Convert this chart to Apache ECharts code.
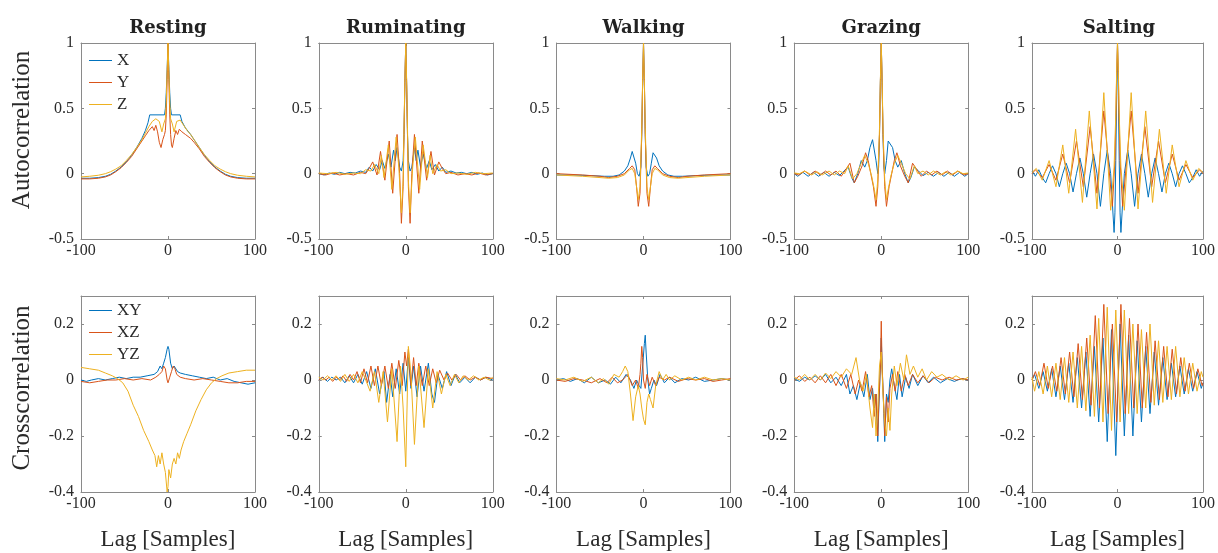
<!DOCTYPE html>
<html>
<head>
<meta charset="utf-8">
<script src="https://cdn.jsdelivr.net/npm/echarts@6/dist/echarts.min.js"></script>
<style>
  html, body { margin: 0; padding: 0; background: #ffffff; }
  #chart { width: 1218px; height: 553px; }
</style>
</head>
<body>
<div id="chart"></div>
<script>
// Column titles (one activity per column) and legend entries
const activities = ['Resting', 'Ruminating', 'Walking', 'Grazing', 'Salting'];
const autoNames = ['X', 'Y', 'Z'];
const crossNames = ['XY', 'XZ', 'YZ'];
const rowLabels = ['Autocorrelation', 'Crosscorrelation'];
const lagLabel = 'Lag [Samples]';

// Tick labels of the axes
const lagTicks = [-100, 0, 100];
const autoTicks = [-0.5, 0, 0.5, 1];
const crossTicks = [-0.4, -0.2, 0, 0.2];
const crossTop = 0.3;

// ---- Autocorrelation, [lag, value] ----
const restX = [[-100,-0.035],[-90,-0.035],[-80,-0.03],[-72,-0.02],[-66,-0.005],[-60,0.02],[-54,0.05],[-48,0.09],[-42,0.14],[-36,0.2],[-30,0.27],[-26,0.33],[-23,0.39],[-21,0.45],[-4,0.45],[-3,0.5],[-2,0.62],[-1,0.8],[0,1],[1,0.8],[2,0.62],[3,0.5],[4,0.45],[14,0.45],[16,0.4],[20,0.35],[26,0.3],[30,0.26],[36,0.2],[42,0.14],[48,0.09],[54,0.05],[60,0.02],[66,-0.005],[72,-0.02],[80,-0.03],[90,-0.035],[100,-0.035]];
const restY = [[-100,-0.04],[-90,-0.04],[-80,-0.035],[-72,-0.025],[-66,-0.01],[-60,0.015],[-54,0.045],[-48,0.085],[-42,0.13],[-36,0.19],[-30,0.25],[-26,0.29],[-22,0.33],[-18,0.36],[-16,0.33],[-14,0.37],[-12,0.32],[-10,0.24],[-8,0.2],[-6,0.26],[-4,0.3],[-3,0.33],[-2,0.45],[-1,0.72],[0,1],[1,0.72],[2,0.45],[3,0.3],[4,0.22],[5,0.2],[7,0.27],[9,0.33],[11,0.3],[13,0.34],[16,0.32],[20,0.3],[26,0.27],[30,0.24],[36,0.19],[42,0.13],[48,0.085],[54,0.045],[60,0.015],[66,-0.01],[72,-0.025],[80,-0.035],[90,-0.04],[100,-0.04]];
const restZ = [[-100,-0.025],[-90,-0.02],[-80,-0.012],[-72,0],[-66,0.015],[-60,0.035],[-54,0.06],[-48,0.1],[-42,0.145],[-36,0.2],[-30,0.26],[-26,0.31],[-22,0.36],[-18,0.4],[-14,0.42],[-10,0.4],[-7,0.32],[-5,0.38],[-3,0.42],[-2,0.55],[-1,0.78],[0,1],[1,0.78],[2,0.55],[3,0.42],[5,0.38],[7,0.32],[10,0.4],[14,0.41],[18,0.37],[22,0.33],[26,0.3],[30,0.26],[36,0.2],[42,0.145],[48,0.1],[54,0.06],[60,0.035],[66,0.015],[72,0],[80,-0.012],[90,-0.02],[100,-0.025]];

const rumX = [[-100,0],[-94,-0.01],[-88,0.005],[-82,-0.005],[-76,0.01],[-70,0],[-64,0.01],[-58,0.005],[-52,0.02],[-46,0.01],[-42,0.05],[-38,0.02],[-34,0.07],[-30,0.03],[-27,0.1],[-24,0.04],[-20,0.15],[-17,0.05],[-14,0.18],[-12,0.1],[-10,0.2],[-7,0.05],[-5,0.02],[-3,0.1],[-2,0.3],[-1,0.7],[0,1],[1,0.7],[2,0.3],[3,0.1],[5,0.02],[7,0.05],[10,0.2],[12,0.1],[14,0.18],[17,0.05],[20,0.15],[24,0.04],[27,0.1],[30,0.03],[34,0.07],[38,0.02],[42,0.05],[46,0.01],[52,0.02],[58,0.005],[64,0.01],[70,0],[76,0.01],[82,-0.005],[88,0.005],[94,-0.01],[100,0]];
const rumY = [[-100,0],[-92,-0.01],[-84,0.005],[-76,-0.01],[-68,0],[-60,-0.01],[-52,0.01],[-46,0],[-42,0.04],[-38,0.09],[-33,-0.01],[-29,0.17],[-24,-0.05],[-19,0.25],[-15,-0.15],[-10,0.3],[-7,0],[-5,-0.38],[-3,-0.1],[-2,0.3],[-1,0.7],[0,1],[1,0.7],[2,0.3],[3,-0.1],[5,-0.38],[7,0],[10,0.3],[15,-0.15],[19,0.25],[24,-0.05],[29,0.17],[33,-0.01],[38,0.09],[42,0.04],[46,0],[52,0.01],[60,-0.01],[68,0],[76,-0.01],[84,0.005],[92,-0.01],[100,0]];
const rumZ = [[-100,0.005],[-90,0],[-80,0.01],[-70,-0.005],[-60,0.005],[-52,0],[-46,0.03],[-40,0.02],[-36,0.07],[-31,0],[-28,0.14],[-25,-0.03],[-20,0.22],[-16,-0.12],[-11,0.28],[-8,0.05],[-5,-0.3],[-3,-0.05],[-2,0.35],[-1,0.72],[0,1],[1,0.72],[2,0.35],[3,-0.05],[5,-0.3],[8,0.05],[11,0.28],[16,-0.12],[20,0.22],[25,-0.03],[28,0.14],[31,0],[36,0.07],[40,0.02],[46,0.03],[52,0],[60,0.005],[70,-0.005],[80,0.01],[90,0],[100,0.005]];

const walkX = [[-100,-0.01],[-80,-0.01],[-60,-0.015],[-45,-0.02],[-35,-0.02],[-28,-0.01],[-22,0.02],[-18,0.06],[-15,0.12],[-13,0.17],[-11,0.16],[-9,0.08],[-7,0],[-5,-0.02],[-3,0.05],[-2,0.3],[-1,0.7],[0,1],[1,0.7],[2,0.3],[3,0.05],[5,-0.02],[7,0],[9,0.08],[11,0.16],[13,0.17],[15,0.12],[18,0.06],[22,0.02],[28,-0.01],[35,-0.02],[45,-0.02],[60,-0.015],[80,-0.01],[100,-0.01]];
const walkY = [[-100,0],[-70,-0.01],[-50,-0.02],[-40,-0.03],[-30,-0.02],[-22,0],[-16,0.04],[-13,0.06],[-10,0.03],[-8,-0.1],[-6,-0.25],[-4,-0.15],[-2,0.3],[-1,0.7],[0,1],[1,0.7],[2,0.3],[4,-0.15],[6,-0.25],[8,-0.1],[10,0.03],[13,0.06],[16,0.04],[22,0],[30,-0.02],[40,-0.03],[50,-0.02],[70,-0.01],[100,0]];
const walkZ = [[-100,-0.01],[-70,-0.02],[-50,-0.03],[-40,-0.035],[-30,-0.03],[-22,-0.01],[-16,0.03],[-13,0.04],[-10,0],[-8,-0.1],[-6,-0.2],[-4,-0.1],[-2,0.35],[-1,0.72],[0,1],[1,0.72],[2,0.35],[4,-0.1],[6,-0.2],[8,-0.1],[10,0],[13,0.04],[16,0.03],[22,-0.01],[30,-0.03],[40,-0.035],[50,-0.03],[70,-0.02],[100,-0.01]];

const grazeX = [[-100,0],[-96,-0.02],[-90,0.01],[-84,-0.02],[-78,0.01],[-72,-0.02],[-66,0.01],[-60,-0.02],[-54,0.01],[-48,-0.015],[-43,0.02],[-38,0.05],[-34,-0.03],[-31,-0.07],[-27,0],[-23,0.1],[-19,0.05],[-16,0.1],[-13,0.2],[-10,0.26],[-8,0.25],[-6,0.1],[-4,0],[-3,0.05],[-2,0.3],[-1,0.7],[0,1],[1,0.7],[2,0.3],[3,0.05],[4,0],[6,0.1],[8,0.25],[10,0.26],[13,0.2],[16,0.1],[19,0.05],[23,0.1],[27,0],[31,-0.07],[34,-0.03],[38,0.05],[43,0.02],[48,-0.015],[54,0.01],[60,-0.02],[66,0.01],[72,-0.02],[78,0.01],[84,-0.02],[90,0.01],[96,-0.02],[100,0]];
const grazeY = [[-100,0],[-95,-0.01],[-88,0.02],[-82,-0.01],[-76,0.02],[-70,-0.01],[-64,0.02],[-58,-0.01],[-52,0.02],[-46,-0.02],[-40,0.04],[-36,0.08],[-31,-0.07],[-27,-0.02],[-22,0.06],[-18,0.16],[-15,0.1],[-12,0],[-9,-0.1],[-6,-0.25],[-4,-0.1],[-2,0.3],[-1,0.7],[0,1],[1,0.7],[2,0.3],[4,-0.1],[6,-0.25],[9,-0.1],[12,0],[15,0.1],[18,0.16],[22,0.06],[27,-0.02],[31,-0.07],[36,0.08],[40,0.04],[46,-0.02],[52,0.02],[58,-0.01],[64,0.02],[70,-0.01],[76,0.02],[82,-0.01],[88,0.02],[95,-0.01],[100,0]];
const grazeZ = [[-100,0.005],[-94,0],[-88,0.02],[-80,-0.01],[-74,0.015],[-68,-0.01],[-60,0.02],[-54,-0.01],[-48,0.02],[-42,0],[-38,0.06],[-33,-0.04],[-28,0],[-23,0.08],[-19,0.14],[-15,0.08],[-11,-0.02],[-8,-0.12],[-6,-0.2],[-4,-0.05],[-2,0.35],[-1,0.72],[0,1],[1,0.72],[2,0.35],[4,-0.05],[6,-0.2],[8,-0.12],[11,-0.02],[15,0.08],[19,0.14],[23,0.08],[28,0],[33,-0.04],[38,0.06],[42,0],[48,0.02],[54,-0.01],[60,0.02],[68,-0.01],[74,0.015],[80,-0.01],[88,0.02],[94,0],[100,0.005]];

const saltX = [[-100,0.02],[-96,-0.02],[-92,0.03],[-88,-0.03],[-84,-0.07],[-80,0],[-76,0.06],[-72,0],[-68,-0.1],[-64,0],[-60,0.08],[-56,0],[-52,-0.14],[-48,0],[-44,0.12],[-40,0],[-36,-0.18],[-32,0],[-28,0.15],[-24,0],[-20,-0.25],[-16,0],[-12,0.18],[-8,0],[-4,-0.45],[-3,-0.3],[-2,0.1],[-1,0.6],[0,1],[1,0.6],[2,0.1],[3,-0.3],[4,-0.45],[8,0],[12,0.18],[16,0],[20,-0.25],[24,0],[28,0.15],[32,0],[36,-0.18],[40,0],[44,0.12],[48,0],[52,-0.14],[56,0],[60,0.08],[64,0],[68,-0.1],[72,0],[76,0.06],[80,0],[84,-0.07],[88,-0.03],[92,0.03],[96,-0.02],[100,0.02]];
const saltY = [[-100,0],[-96,0.03],[-88,-0.03],[-80,0.07],[-72,-0.05],[-64,0.15],[-56,-0.07],[-48,0.25],[-40,-0.1],[-32,0.36],[-24,-0.15],[-16,0.48],[-6,-0.25],[-3,0.1],[-2,0.4],[-1,0.75],[0,1],[1,0.75],[2,0.4],[3,0.1],[6,-0.25],[16,0.48],[24,-0.15],[32,0.36],[40,-0.1],[48,0.25],[56,-0.07],[64,0.15],[72,-0.05],[80,0.07],[88,-0.03],[96,0.03],[100,0]];
const saltZ = [[-100,0.01],[-95,0.04],[-88,-0.05],[-80,0.1],[-72,-0.1],[-64,0.22],[-57,-0.15],[-49,0.34],[-41,-0.22],[-33,0.48],[-24,-0.27],[-16,0.62],[-8,-0.28],[-4,0.05],[-2,0.45],[-1,0.78],[0,1],[1,0.78],[2,0.45],[4,0.05],[8,-0.28],[16,0.62],[24,-0.27],[33,0.48],[41,-0.22],[49,0.34],[57,-0.15],[64,0.22],[72,-0.1],[80,0.1],[88,-0.05],[95,0.04],[100,0.01]];

// ---- Crosscorrelation, [lag, value] ----
const restXY = [[-100,0],[-94,-0.005],[-88,0],[-80,0.005],[-72,0],[-64,0.005],[-56,0.01],[-48,0.005],[-40,0.01],[-32,0.01],[-24,0.015],[-16,0.02],[-12,0.03],[-9,0.05],[-7,0.04],[-5,0.06],[-3,0.08],[-1,0.11],[0,0.12],[1,0.11],[3,0.06],[5,0.04],[7,0.05],[9,0.055],[11,0.03],[14,0.025],[20,0.02],[28,0.015],[36,0.01],[44,0.005],[52,0.01],[60,0],[68,0.005],[76,-0.005],[84,-0.01],[92,-0.015],[100,-0.01]];
const restXZ = [[-100,-0.005],[-90,-0.01],[-80,-0.005],[-70,0],[-60,0],[-50,0.005],[-40,0],[-30,0.005],[-20,0],[-14,0.01],[-10,0.02],[-7,0.03],[-5,0.05],[-3,0.04],[-1,0],[0,-0.01],[2,0.01],[4,0.03],[6,0.05],[8,0.04],[10,0.02],[14,0.01],[20,0.005],[30,0],[40,0.005],[50,0],[60,-0.005],[70,-0.01],[80,-0.01],[90,-0.005],[100,-0.005]];
const restYZ = [[-100,0.045],[-90,0.04],[-80,0.035],[-72,0.025],[-64,0.015],[-58,0.005],[-52,-0.01],[-46,-0.04],[-40,-0.09],[-34,-0.13],[-28,-0.18],[-22,-0.22],[-18,-0.25],[-15,-0.27],[-13,-0.31],[-11,-0.27],[-9,-0.3],[-7,-0.26],[-5,-0.3],[-3,-0.33],[-1,-0.4],[0,-0.38],[1,-0.32],[3,-0.35],[5,-0.3],[7,-0.28],[9,-0.3],[11,-0.26],[13,-0.28],[15,-0.25],[18,-0.22],[22,-0.19],[26,-0.16],[32,-0.11],[38,-0.07],[44,-0.035],[50,-0.01],[56,0.005],[62,0.015],[70,0.025],[80,0.03],[90,0.035],[100,0.035]];

const rumXY = [[-100,0],[-95,0.01],[-90,-0.005],[-85,0.01],[-80,0],[-75,0.01],[-70,-0.01],[-65,0.015],[-60,-0.01],[-55,0.02],[-50,-0.015],[-45,0.03],[-40,-0.03],[-35,0.04],[-30,-0.05],[-25,0.03],[-22,-0.08],[-18,0.02],[-15,-0.06],[-11,0.04],[-7,-0.05],[-3,0.06],[0,-0.04],[3,0.08],[6,-0.03],[9,0.05],[13,-0.06],[17,0.05],[21,-0.04],[26,0.06],[30,-0.05],[33,-0.08],[37,0.02],[42,-0.03],[47,0.03],[52,-0.02],[57,0.02],[62,-0.01],[68,0.01],[74,-0.01],[80,0.01],[86,0],[92,0.01],[100,0]];
const rumXZ = [[-100,0],[-96,0.01],[-92,0],[-88,0.01],[-84,-0.005],[-80,0.01],[-76,0],[-72,0.015],[-68,-0.005],[-64,0.02],[-60,0],[-56,0.03],[-52,-0.01],[-48,0.04],[-44,-0.01],[-40,0.05],[-36,-0.02],[-32,0.05],[-28,-0.02],[-24,0.05],[-20,-0.03],[-16,0.06],[-12,-0.03],[-8,0.07],[-4,-0.02],[-1,0.1],[1,0.05],[3,0.11],[6,-0.02],[9,0.08],[12,-0.02],[15,0.06],[19,-0.02],[23,0.05],[27,-0.02],[31,0.04],[35,-0.01],[39,0.035],[44,0],[48,0.025],[53,0],[58,0.02],[63,0],[68,0.015],[74,0],[80,0.01],[86,0],[92,0.01],[100,0.005]];
const rumYZ = [[-100,0.01],[-95,0],[-90,0.015],[-85,0],[-80,0.015],[-75,-0.005],[-70,0.02],[-65,-0.005],[-60,0.02],[-55,-0.01],[-50,0.03],[-46,0],[-41,-0.04],[-36,0.03],[-31,-0.08],[-26,0.03],[-21,-0.15],[-16,0.04],[-10,-0.22],[-6,0.05],[-3,-0.1],[0,-0.31],[3,0.12],[6,0.02],[10,-0.23],[15,0.05],[21,-0.17],[26,0.04],[31,-0.1],[36,0.03],[41,-0.05],[46,0.02],[51,-0.02],[56,0.02],[61,-0.01],[66,0.015],[72,0],[78,0.015],[84,0],[90,0.01],[96,0],[100,0.01]];

const walkXY = [[-100,0],[-92,0.005],[-84,-0.005],[-76,0.005],[-68,-0.01],[-60,0.01],[-52,-0.01],[-44,0],[-38,-0.015],[-32,0.01],[-26,-0.01],[-20,0.02],[-15,0],[-11,-0.03],[-8,0],[-5,-0.02],[-3,-0.03],[-1,0.05],[1,0.13],[2,0.16],[3,0.1],[5,0],[7,-0.05],[9,-0.03],[12,0],[15,-0.02],[19,0.02],[24,-0.01],[30,0.01],[36,-0.01],[44,0.005],[52,0],[60,0.01],[70,-0.005],[80,0],[90,0.005],[100,0]];
const walkXZ = [[-100,0],[-90,-0.005],[-80,0.005],[-70,0],[-60,-0.01],[-50,0.005],[-42,-0.01],[-36,0.01],[-30,-0.01],[-24,0],[-18,0.02],[-13,-0.02],[-9,0],[-6,-0.03],[-4,0.02],[-3,0.06],[-2,0.12],[-1,0.08],[0,0],[2,-0.03],[4,0.02],[7,-0.02],[10,0.01],[14,-0.02],[18,0.01],[24,0],[30,0.01],[40,-0.005],[50,0.005],[60,0],[70,0.005],[80,-0.005],[90,0],[100,0.005]];
const walkYZ = [[-100,0.005],[-90,0],[-80,0.01],[-70,-0.005],[-60,0.01],[-52,-0.01],[-46,0.005],[-40,-0.015],[-34,0.02],[-28,0.01],[-24,0.03],[-21,0.05],[-18,0.03],[-15,-0.05],[-12,-0.145],[-9,-0.06],[-6,-0.02],[-4,-0.05],[-2,-0.1],[0,-0.14],[2,-0.16],[4,-0.08],[6,-0.05],[8,-0.07],[11,-0.1],[14,-0.02],[18,0.03],[22,0],[26,0.02],[30,0],[36,0.015],[44,0],[52,0.01],[60,0],[70,0.01],[80,0],[90,0.005],[100,0]];

const grazeXY = [[-100,0.005],[-94,-0.005],[-88,0.01],[-82,0],[-76,0.015],[-70,0],[-64,0.02],[-58,-0.01],[-52,0.01],[-46,-0.02],[-40,0.02],[-36,-0.05],[-32,-0.02],[-28,-0.07],[-24,-0.01],[-20,-0.06],[-16,0.02],[-13,-0.07],[-10,-0.03],[-8,-0.1],[-6,-0.05],[-4,-0.22],[-3,-0.12],[-1,0.05],[0,0.15],[1,0.05],[3,-0.12],[4,-0.22],[6,-0.05],[8,-0.08],[10,0],[12,0.04],[15,-0.02],[18,-0.07],[21,0.02],[24,-0.06],[28,0.01],[32,-0.03],[36,0.02],[42,-0.02],[48,0.015],[54,-0.01],[60,0.01],[68,-0.01],[76,0.005],[84,-0.005],[92,0.005],[100,0]];
const grazeXZ = [[-100,0],[-94,0.015],[-88,-0.005],[-82,0.01],[-76,-0.01],[-70,0.015],[-64,-0.01],[-58,0.02],[-52,-0.02],[-46,0.02],[-40,-0.03],[-35,0.02],[-30,-0.05],[-26,0],[-22,-0.04],[-18,0.03],[-14,-0.06],[-11,-0.02],[-8,-0.13],[-6,-0.05],[-4,-0.2],[-3,-0.1],[-1,0.05],[0,0.21],[1,0.05],[3,-0.1],[4,-0.2],[6,-0.06],[8,-0.15],[10,-0.03],[13,0.02],[16,-0.04],[19,0.03],[23,-0.04],[27,0.02],[31,-0.02],[36,0.02],[42,-0.01],[48,0.015],[55,-0.01],[62,0.01],[70,0],[78,0.01],[86,0],[94,0.005],[100,0]];
const grazeYZ = [[-100,0.01],[-94,0],[-88,0.02],[-82,0],[-76,0.02],[-70,0],[-64,0.025],[-58,0.005],[-52,0.03],[-46,0.01],[-40,0.04],[-34,0.02],[-29,0.08],[-25,0],[-21,-0.04],[-17,0.02],[-13,-0.1],[-10,-0.17],[-8,-0.05],[-6,-0.2],[-4,-0.1],[-2,0.05],[0,0.1],[2,-0.05],[4,-0.15],[6,-0.2],[8,-0.1],[10,-0.18],[12,-0.05],[15,0.05],[18,-0.02],[22,0.06],[26,0],[29,0.09],[33,0.02],[37,0.05],[42,0.01],[47,0.04],[52,0],[58,0.03],[64,0.01],[70,0.02],[78,0],[86,0.015],[94,0],[100,0.01]];

const saltXY = [[-100,0],[-97,0.02],[-92,-0.03],[-87,0.03],[-82,-0.04],[-77,0.04],[-72,-0.06],[-67,0.05],[-62,-0.07],[-57,0.06],[-52,-0.08],[-47,0.08],[-42,-0.1],[-37,0.1],[-32,-0.13],[-27,0.12],[-22,-0.15],[-17,0.15],[-12,-0.22],[-7,0.18],[-2,-0.27],[3,0.2],[8,-0.2],[13,0.16],[18,-0.2],[23,0.14],[28,-0.15],[33,0.12],[38,-0.12],[43,0.1],[48,-0.09],[53,0.08],[58,-0.07],[63,0.06],[68,-0.06],[73,0.05],[78,-0.05],[83,0.04],[88,-0.04],[93,0.03],[98,-0.03],[100,-0.01]];
const saltXZ = [[-100,0],[-96,0.03],[-91,-0.02],[-86,0.06],[-81,-0.03],[-76,0.05],[-71,-0.04],[-66,0.08],[-61,-0.05],[-56,0.1],[-51,-0.06],[-46,0.13],[-41,-0.07],[-36,0.15],[-31,-0.09],[-26,0.23],[-21,-0.1],[-16,0.27],[-11,-0.12],[-6,0.2],[-1,-0.15],[4,0.27],[9,-0.12],[14,0.22],[19,-0.1],[24,0.2],[29,-0.1],[34,0.17],[39,-0.08],[44,0.14],[49,-0.07],[54,0.12],[59,-0.06],[64,0.11],[69,-0.05],[74,0.08],[79,-0.04],[84,0.06],[89,-0.03],[94,0.04],[99,-0.02],[100,-0.01]];
const saltYZ = [[-100,0.01],[-97,-0.04],[-92,0.03],[-87,-0.05],[-82,0.05],[-77,-0.06],[-72,0.06],[-67,-0.07],[-62,0.08],[-57,-0.08],[-52,0.1],[-47,-0.1],[-42,0.12],[-37,-0.11],[-32,0.16],[-27,-0.13],[-22,0.22],[-17,-0.15],[-12,0.26],[-7,-0.18],[-2,0.25],[3,-0.15],[8,0.25],[13,-0.12],[18,0.2],[23,-0.12],[28,0.18],[33,-0.1],[38,0.2],[43,-0.09],[48,0.14],[53,-0.08],[58,0.12],[63,-0.07],[68,0.12],[73,-0.06],[78,0.08],[83,-0.05],[88,0.06],[93,-0.04],[98,0.03],[100,0.01]];

// Per column, the three curves of each row
const autoRows = [[restX, restY, restZ], [rumX, rumY, rumZ], [walkX, walkY, walkZ], [grazeX, grazeY, grazeZ], [saltX, saltY, saltZ]];
const crossRows = [[restXY, restXZ, restYZ], [rumXY, rumXZ, rumYZ], [walkXY, walkXZ, walkYZ], [grazeXY, grazeXZ, grazeYZ], [saltXY, saltXZ, saltYZ]];

// ---- Styling and layout ----
const lineColors = ['#0072BD', '#D95319', '#EDB120'];
const axisColor = '#8a8a8a';
const textColor = '#2a2a2a';
const serif = '"Liberation Serif", "Times New Roman", serif';
const panelLeft0 = 81, panelStep = 237.75, panelWidth = 174, panelHeight = 196;
const rowTops = [43, 296];
const rowLabelCenters = [130, 388];

const grids = [], xAxes = [], yAxes = [], series = [], titles = [], graphics = [];

for (let r = 0; r < 2; r++) {
  const ticks = r === 0 ? autoTicks : crossTicks;
  const yMin = ticks[0];
  const yMax = r === 0 ? ticks[ticks.length - 1] : crossTop;
  const yInt = ticks[1] - ticks[0];

  // row label, written bottom to top
  graphics.push({
    type: 'text', x: 22, y: rowLabelCenters[r], rotation: Math.PI / 2,
    style: { text: rowLabels[r], font: '25px ' + serif, fill: textColor, align: 'center', verticalAlign: 'middle' }
  });

  for (let c = 0; c < 5; c++) {
    const g = r * 5 + c;
    const left = panelLeft0 + c * panelStep;
    grids.push({ left: left, top: rowTops[r], width: panelWidth, height: panelHeight, containLabel: false });

    const xBase = {
      gridIndex: g, type: 'value', min: lagTicks[0], max: lagTicks[lagTicks.length - 1],
      interval: lagTicks[1] - lagTicks[0],
      axisLine: { show: true, onZero: false, lineStyle: { color: axisColor, width: 1 } },
      axisTick: { show: true, inside: true, length: 3, lineStyle: { color: axisColor } },
      splitLine: { show: false }
    };
    xAxes.push(Object.assign({}, xBase, {
      position: 'bottom',
      axisLabel: { show: true, fontFamily: serif, fontSize: 16, color: textColor, margin: 4 },
      name: r === 1 ? lagLabel : '',
      nameLocation: 'middle', nameGap: 36,
      nameTextStyle: { fontFamily: serif, fontSize: 23, color: textColor }
    }));
    xAxes.push(Object.assign({}, xBase, { position: 'top', axisLabel: { show: false } }));

    const yBase = {
      gridIndex: g, type: 'value', min: yMin, max: yMax, interval: yInt,
      axisLine: { show: true, onZero: false, lineStyle: { color: axisColor, width: 1 } },
      axisTick: { show: true, inside: true, length: 3, lineStyle: { color: axisColor } },
      splitLine: { show: false }
    };
    yAxes.push(Object.assign({}, yBase, {
      position: 'left',
      axisLabel: { show: true, fontFamily: serif, fontSize: 16, color: textColor, margin: 7, showMaxLabel: r === 0 }
    }));
    yAxes.push(Object.assign({}, yBase, { position: 'right', axisLabel: { show: false } }));

    const curves = r === 0 ? autoRows[c] : crossRows[c];
    const names = r === 0 ? autoNames : crossNames;
    curves.forEach(function (data, k) {
      series.push({
        type: 'line', name: names[k], data: data,
        xAxisIndex: 2 * g, yAxisIndex: 2 * g,
        symbol: 'none', showSymbol: false, clip: true,
        lineStyle: { color: lineColors[k], width: 1 },
        itemStyle: { color: lineColors[k] },
        emphasis: { disabled: true }, silent: true
      });
    });

    if (r === 0) {
      titles.push({
        text: activities[c], left: left + panelWidth / 2, top: 19, textAlign: 'center', padding: 0,
        textStyle: { fontFamily: '"DejaVu Serif", serif', fontWeight: 'bold', fontSize: 18, color: '#222' }
      });
    }
  }
}

// legend keys are plain short strokes in the series colour
const legendBase = {
  orient: 'vertical', left: 89, icon: 'rect', itemWidth: 23, itemHeight: 1, itemGap: 5, padding: 0,
  selectedMode: false,
  textStyle: { fontFamily: serif, fontSize: 17, color: textColor }
};

const chart = echarts.init(document.getElementById('chart'), null, { renderer: 'canvas' });
chart.setOption({
  animation: false,
  backgroundColor: '#ffffff',
  title: titles,
  legend: [
    Object.assign({}, legendBase, { data: autoNames, top: 52 }),
    Object.assign({}, legendBase, { data: crossNames, top: 302 })
  ],
  graphic: graphics,
  grid: grids,
  xAxis: xAxes,
  yAxis: yAxes,
  series: series
});
</script>
</body>
</html>
